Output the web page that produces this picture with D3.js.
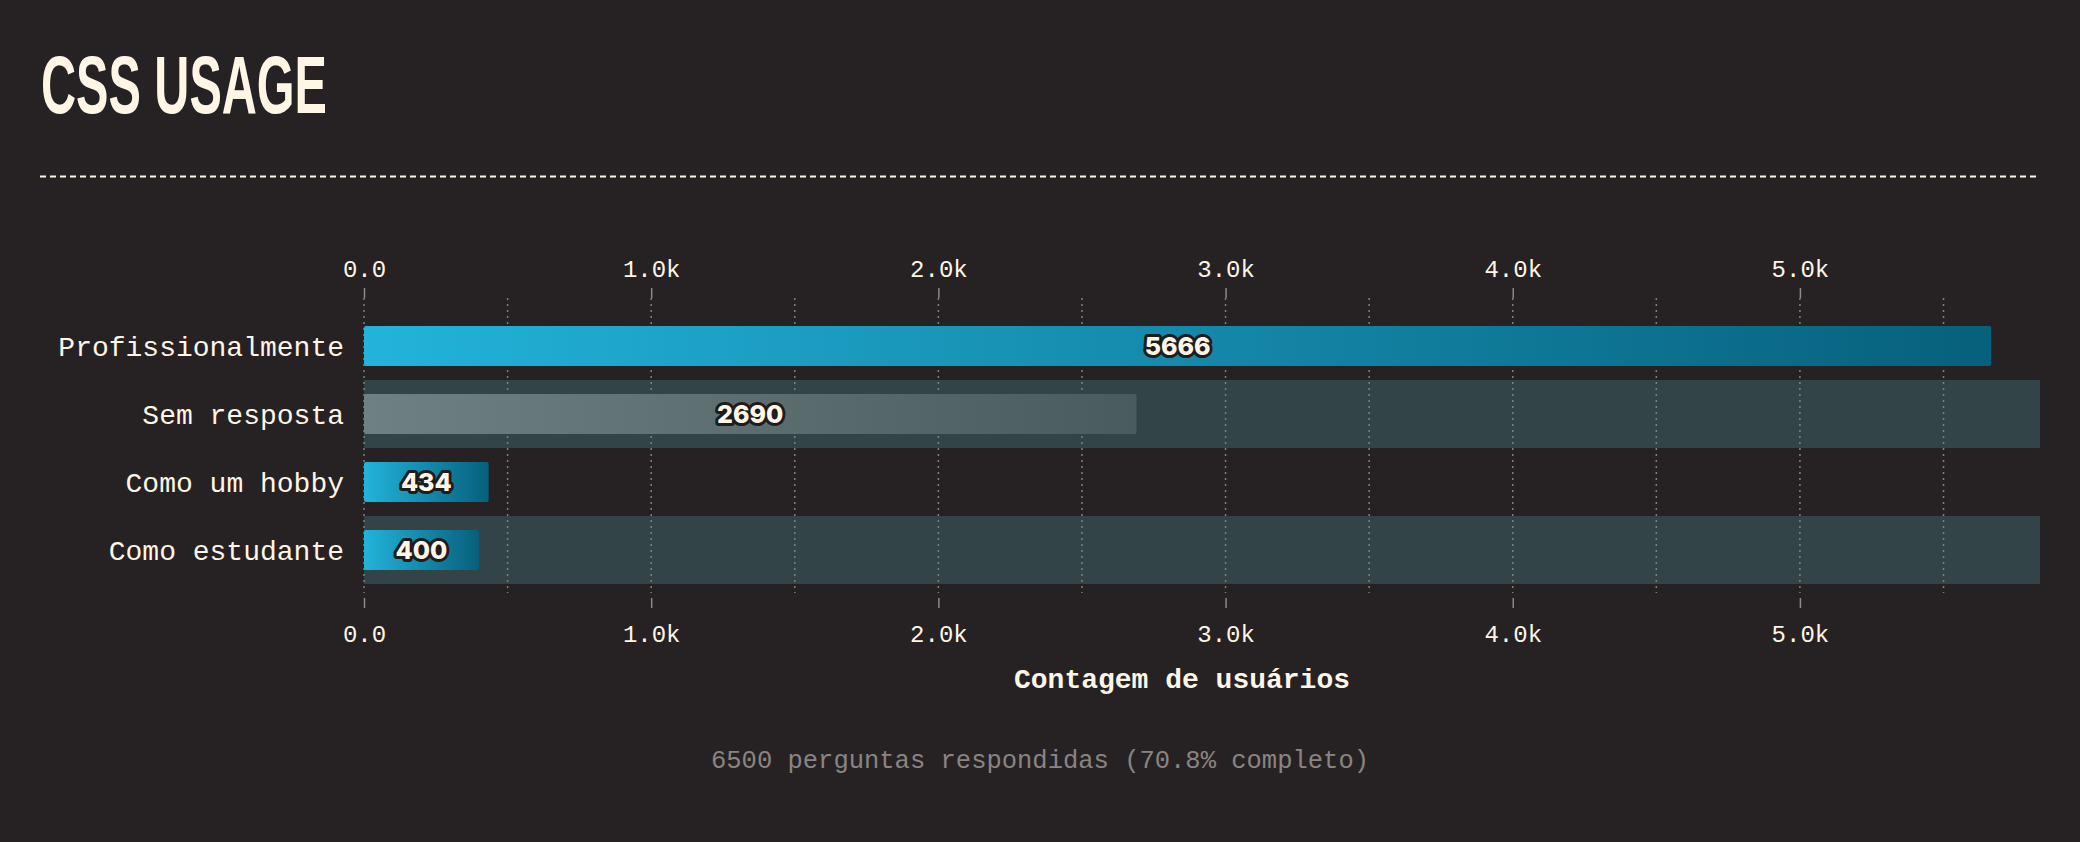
<!DOCTYPE html>
<html>
<head>
<meta charset="utf-8">
<script src="https://cdn.jsdelivr.net/npm/d3@7"></script>
<style>
  html, body { margin: 0; padding: 0; background: #262224; }
  svg { display: block; }
</style>
</head>
<body>
<svg id="chart" width="2080" height="842"></svg>
<script>
// ---- data ----
const categories = ["Profissionalmente", "Sem resposta", "Como um hobby", "Como estudante"];
const values = [5666, 2690, 434, 400];
const isNoAnswer = [false, true, false, false];
const tickValues = [0, 1000, 2000, 3000, 4000, 5000];
const tickLabels = ["0.0", "1.0k", "2.0k", "3.0k", "4.0k", "5.0k"];
const gridValues = [0, 500, 1000, 1500, 2000, 2500, 3000, 3500, 4000, 4500, 5000, 5500];
const titleText = "CSS USAGE";
const axisTitle = "Contagem de usuários";
const footerText = "6500 perguntas respondidas (70.8% completo)";

// ---- layout ----
const W = 2080, H = 842;
const left = 364, right = 2040;
const bandTop = 312, bandBottom = 584;
const axisTopY = 298, axisBottomY = 598;
const barH = 40;
const cream = "#fdf5e6";
const monoFont = "'Liberation Mono', 'DejaVu Sans Mono', monospace";

const svg = d3.select("#chart");
svg.append("rect").attr("width", W).attr("height", H).attr("fill", "#262224");

const defs = svg.append("defs");
const g1 = defs.append("linearGradient").attr("id", "gBlue")
  .attr("x1", "0%").attr("x2", "100%").attr("y1", "0%").attr("y2", "0%");
g1.append("stop").attr("offset", "0%").attr("stop-color", "#23b3da");
g1.append("stop").attr("offset", "100%").attr("stop-color", "#07607c");
const g2 = defs.append("linearGradient").attr("id", "gGray")
  .attr("x1", "0%").attr("x2", "100%").attr("y1", "0%").attr("y2", "0%");
g2.append("stop").attr("offset", "0%").attr("stop-color", "#6f8082");
g2.append("stop").attr("offset", "100%").attr("stop-color", "#4a5b5f");

// ---- title ----
svg.append("text")
  .attr("x", 41).attr("y", 113)
  .attr("font-family", "'Liberation Sans Narrow', 'Liberation Sans', 'DejaVu Sans Condensed', sans-serif")
  .attr("font-weight", 700)
  .attr("font-size", 81)
  .attr("textLength", 286)
  .attr("lengthAdjust", "spacingAndGlyphs")
  .attr("fill", "#fff6e6")
  .text(titleText);

svg.append("line")
  .attr("x1", 40).attr("x2", right).attr("y1", 176.5).attr("y2", 176.5)
  .attr("stroke", cream).attr("stroke-width", 2)
  .attr("stroke-dasharray", "6,4");

// ---- scales ----
const x = d3.scaleLinear().domain([0, d3.max(values) * 1.03]).range([left, right]);
const y = d3.scaleBand().domain(categories).range([bandTop, bandBottom]).padding(0);

// alternating bands
svg.append("g").selectAll("rect")
  .data(categories.filter((d, i) => i % 2 === 1))
  .join("rect")
  .attr("x", left).attr("width", right - left)
  .attr("y", d => y(d)).attr("height", y.bandwidth())
  .attr("fill", "#324447");

// grid lines
svg.append("g").selectAll("line")
  .data(gridValues)
  .join("line")
  .attr("x1", d => x(d)).attr("x2", d => x(d))
  .attr("y1", axisTopY).attr("y2", axisBottomY - 5)
  .attr("stroke", "#808080").attr("stroke-width", 1.5)
  .attr("stroke-dasharray", "2,4");

// axes
const fmt = d => tickLabels[tickValues.indexOf(d)];
const topAxis = svg.append("g").attr("transform", `translate(0,${axisTopY})`)
  .call(d3.axisTop(x).tickValues(tickValues).tickFormat(fmt).tickSize(10).tickPadding(11));
const botAxis = svg.append("g").attr("transform", `translate(0,${axisBottomY})`)
  .call(d3.axisBottom(x).tickValues(tickValues).tickFormat(fmt).tickSize(10).tickPadding(17));
[topAxis, botAxis].forEach(a => {
  a.select(".domain").remove();
  a.selectAll(".tick line").attr("stroke", "#8a8a8a").attr("stroke-width", 1.5);
  a.selectAll(".tick text").attr("fill", cream)
    .attr("font-family", monoFont).attr("font-size", 24);
});

// bars
svg.append("g").selectAll("rect")
  .data(categories)
  .join("rect")
  .attr("x", x(0))
  .attr("y", d => y(d) + (y.bandwidth() - barH) / 2)
  .attr("width", (d, i) => x(values[i]) - x(0))
  .attr("height", barH)
  .attr("rx", 2)
  .attr("fill", (d, i) => isNoAnswer[i] ? "url(#gGray)" : "url(#gBlue)");

// category labels
svg.append("g").selectAll("text")
  .data(categories)
  .join("text")
  .attr("x", x(0) - 20)
  .attr("y", d => y(d) + y.bandwidth() / 2)
  .attr("dy", "0.35em")
  .attr("text-anchor", "end")
  .attr("fill", cream)
  .attr("font-family", monoFont)
  .attr("font-size", 28)
  .text(d => d);

// value labels
svg.append("g").selectAll("text")
  .data(categories)
  .join("text")
  .attr("x", (d, i) => (x(0) + x(values[i])) / 2)
  .attr("y", d => y(d) + y.bandwidth() / 2)
  .attr("dy", "0.36em")
  .attr("text-anchor", "middle")
  .attr("font-family", "Inter, 'Noto Sans', sans-serif")
  .attr("font-weight", 800)
  .attr("font-size", 25)
  .attr("fill", "#fff6e6")
  .attr("stroke", "#1f1c1d")
  .attr("stroke-width", 6)
  .attr("stroke-linejoin", "round")
  .attr("paint-order", "stroke")
  .text((d, i) => values[i]);

// axis title
svg.append("text")
  .attr("x", 1182).attr("y", 688)
  .attr("text-anchor", "middle")
  .attr("fill", cream)
  .attr("font-family", monoFont)
  .attr("font-weight", 700)
  .attr("font-size", 28)
  .text(axisTitle);

// footer
svg.append("text")
  .attr("x", W / 2).attr("y", 768)
  .attr("text-anchor", "middle")
  .attr("fill", "#8a8482")
  .attr("font-family", monoFont)
  .attr("font-size", 25.5)
  .text(footerText);
</script>
</body>
</html>
